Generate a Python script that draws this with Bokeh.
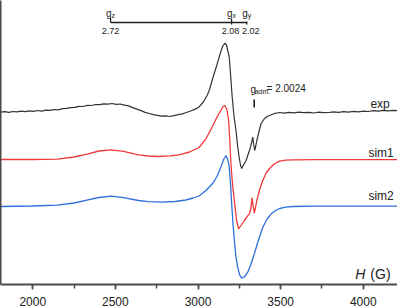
from bokeh.plotting import figure
from bokeh.models import Label, SingleIntervalTicker, FixedTicker
from bokeh.embed import file_html
from bokeh.resources import INLINE

FONT = "Liberation Sans"

# ---------------- data (magnetic field in G, intensity in arbitrary units incl. offset) -------------
exp_field = [1805, 1830, 1855, 1880, 1905, 1930, 1955, 1980, 2005, 2030, 2055, 2080, 2105, 2130,
             2155, 2180, 2205, 2230, 2255, 2280, 2305, 2330, 2355, 2380, 2405, 2430, 2455, 2480,
             2505, 2530, 2555, 2580, 2605, 2630, 2655, 2680, 2705, 2730, 2755, 2780, 2805, 2830,
             2855, 2880, 2905, 2930, 2955, 2980, 3005, 3030, 3055, 3070, 3085, 3100, 3115, 3128,
             3140, 3150, 3163, 3172, 3180, 3189, 3197, 3207, 3218, 3230, 3240, 3250, 3257, 3264,
             3272, 3282, 3291, 3303, 3315, 3323, 3331, 3337, 3343, 3350, 3356, 3369, 3382, 3400,
             3420, 3433, 3460, 3494, 3520, 3550, 3580, 3610, 3640, 3670, 3700, 3730, 3760, 3790,
             3820, 3850, 3880, 3910, 3940, 3970, 4000, 4030, 4060, 4090, 4120, 4150, 4183, 4207]
exp_int = [172.3, 172.9, 172.1, 173.0, 172.6, 173.4, 172.8, 173.6, 173.1, 174.0, 173.4, 174.3, 174.1, 175.0,
           174.6, 175.8, 176.2, 176.9, 177.1, 178.2, 178.0, 179.1, 179.0, 180.0, 179.8, 180.7, 180.3, 181.0,
           180.2, 180.5, 179.3, 178.6, 176.9, 175.4, 173.9, 172.1, 171.0, 169.9, 169.2, 168.3, 168.6, 168.0,
           168.9, 169.8, 170.6, 172.0, 173.5, 175.1, 177.3, 182.0, 189.0, 195.0, 204.0, 212.0, 220.0, 227.3,
           234.0, 238.5, 241.3, 239.5, 234.0, 227.3, 210.0, 187.3, 168.0, 154.0, 138.0, 126.0, 119.5, 116.0,
           118.5, 121.5, 124.0, 130.0, 136.0, 141.0, 147.3, 140.0, 134.0, 139.0, 144.0, 153.0, 161.0, 165.5,
           168.2, 169.0, 170.8, 172.0, 171.4, 172.2, 171.6, 172.4, 171.9, 172.1, 171.5, 172.3, 171.8, 172.0,
           172.6, 172.1, 172.9, 172.4, 173.1, 172.7, 173.4, 173.0, 173.8, 173.3, 174.1, 173.7, 174.2, 173.9]

sim1_field = [1805, 2000, 2150, 2250, 2335, 2400, 2476, 2550, 2640, 2700, 2762, 2830, 2884, 2950,
              3006, 3048, 3085, 3115, 3138, 3152, 3163, 3175, 3185, 3192, 3199, 3210, 3220, 3233,
              3246, 3262, 3280, 3300, 3311, 3320, 3327, 3334, 3341, 3349, 3356, 3375, 3392, 3412,
              3433, 3460, 3494, 3530, 3573, 3700, 4207]
sim1_int = [125.0, 125.0, 125.3, 127.5, 130.7, 133.5, 134.7, 133.2, 129.7, 128.5, 128.0, 128.6, 129.7, 132.5,
            137.0, 145.7, 157.3, 167.5, 174.0, 178.0, 179.0, 175.0, 164.0, 145.0, 121.0, 98.0, 84.0, 64.0,
            55.7, 59.5, 64.0, 68.5, 70.7, 76.0, 86.7, 78.0, 71.3, 78.0, 84.0, 96.0, 104.0, 111.5,
            116.0, 120.5, 123.3, 124.3, 124.7, 124.8, 124.8]

sim2_field = [1805, 2000, 2150, 2250, 2335, 2400, 2476, 2550, 2640, 2700, 2780, 2860, 2927, 2970,
              3006, 3048, 3087, 3115, 3138, 3155, 3169, 3180, 3189, 3197, 3205, 3212, 3220, 3230,
              3240, 3252, 3264, 3280, 3301, 3320, 3341, 3365, 3392, 3418, 3443, 3470, 3494, 3530,
              3573, 3700, 4207]
sim2_int = [78.0, 78.5, 79.3, 81.5, 84.7, 87.0, 88.3, 86.8, 84.0, 82.8, 82.3, 83.0, 84.5, 86.5,
            88.5, 94.0, 100.7, 108.0, 117.3, 125.0, 129.0, 125.0, 117.3, 100.0, 77.3, 60.0, 44.0, 27.0,
            17.3, 9.5, 6.3, 7.5, 12.3, 20.0, 30.7, 44.0, 57.3, 65.5, 70.7, 74.0, 76.0, 77.3,
            78.0, 78.3, 78.3]

series_names = ["exp", "sim1", "sim2"]
series_label_field = [4043, 4031, 4031]
series_label_int = [181, 132, 89]

# g-value scale bar at the top
g_names = ["z", "x", "y"]
g_values = ["2.72", "2.08", "2.02"]
g_fields = [2471, 3203, 3295]
g_tick_top = [266.7, 266.0, 263.0]
g_tick_bottom = [262.0, 260.0, 260.0]
g_bar_level = 262.0

# free-electron g marker
gadm_field = 3340
gadm_top = 185.0
gadm_bottom = 177.0
gadm_text = "= 2.0024"

x_ticks_interval = 500

# ---------------- figure ----------------
p = figure(width=397, height=308, x_range=(1805, 4207), y_range=(0, 284),
           output_backend="svg", toolbar_location=None,
           min_border_left=0, min_border_right=0, min_border_top=0, min_border_bottom=0)
p.outline_line_color = None
p.grid.visible = False
p.background_fill_color = "white"
p.border_fill_color = "white"

AX = "#4a4a4a"
xa = p.xaxis[0]
xa.ticker = SingleIntervalTicker(interval=x_ticks_interval, num_minor_ticks=2)
xa.axis_line_color = AX
xa.axis_line_width = 2
xa.major_tick_line_color = AX
xa.major_tick_line_width = 1.5
xa.minor_tick_line_color = AX
xa.minor_tick_line_width = 1.5
xa.major_tick_in = 0
xa.major_tick_out = 5
xa.minor_tick_in = 0
xa.minor_tick_out = 4
xa.major_label_text_font = FONT
xa.major_label_text_font_size = "12px"
xa.major_label_text_color = "#222222"
xa.major_label_standoff = 7

ya = p.yaxis[0]
ya.ticker = FixedTicker(ticks=[], minor_ticks=[])
ya.major_label_text_font_size = "0px"
ya.axis_line_color = AX
ya.axis_line_width = 2
ya.major_tick_line_color = None
ya.minor_tick_line_color = None

# curves
p.line(exp_field, exp_int, line_color="#333333", line_width=1.2)
p.line(sim1_field, sim1_int, line_color="#f03a3a", line_width=1.3)
p.line(sim2_field, sim2_int, line_color="#2f6fdc", line_width=1.3)

# series labels
for name, xf, yi in zip(series_names, series_label_field, series_label_int):
    p.add_layout(Label(x=xf, y=yi, text=name, text_font=FONT, text_font_size="12px",
                       text_color="#222222", text_baseline="middle", text_align="left"))

# g scale bar
p.segment(x0=[g_fields[0]], y0=[g_bar_level], x1=[g_fields[-1]], y1=[g_bar_level],
          line_color="#222222", line_width=1.3)
p.segment(x0=g_fields, y0=g_tick_bottom, x1=g_fields, y1=g_tick_top,
          line_color="#222222", line_width=1.3)
val_offsets = [0, -1, 4]
for gn, gv, gf, vo in zip(g_names, g_values, g_fields, val_offsets):
    p.add_layout(Label(x=gf, y=271, x_offset=1, text="g", text_font=FONT, text_font_size="10px",
                       text_color="#222222", text_align="right", text_baseline="alphabetic"))
    p.add_layout(Label(x=gf, y=269, x_offset=1, text=gn, text_font=FONT, text_font_size="7px",
                       text_color="#222222", text_align="left", text_baseline="alphabetic"))
    p.add_layout(Label(x=gf, y=254, x_offset=vo, text=gv, text_font=FONT, text_font_size="9px",
                       text_color="#222222", text_align="center", text_baseline="middle"))

# g_adm marker
p.segment(x0=[gadm_field], y0=[gadm_bottom], x1=[gadm_field], y1=[gadm_top],
          line_color="#111111", line_width=1.5)
p.add_layout(Label(x=3317, y=195.5, text="g", text_font=FONT, text_font_size="10px",
                   text_color="#222222", text_align="left", text_baseline="alphabetic"))
p.add_layout(Label(x=3343, y=193, text="adm.", text_font=FONT, text_font_size="7px",
                   text_color="#222222", text_align="left", text_baseline="alphabetic"))
p.add_layout(Label(x=3415, y=196, text=gadm_text, text_font=FONT, text_font_size="10px",
                   text_color="#222222", text_align="left", text_baseline="alphabetic"))

# axis title inside the plot
p.add_layout(Label(x=3951, y=11, text="H", text_font=FONT, text_font_size="14px",
                   text_font_style="italic", text_color="#222222",
                   text_align="left", text_baseline="middle"))
p.add_layout(Label(x=4165, y=11, text="(G)", text_font=FONT, text_font_size="14px",
                   text_color="#222222", text_align="right", text_baseline="middle"))

open("out.html", "w").write(file_html(p, INLINE))
